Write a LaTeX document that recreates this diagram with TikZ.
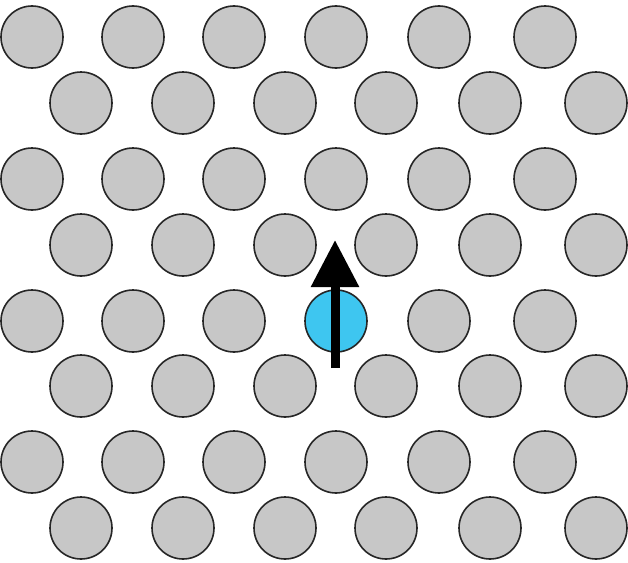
\documentclass[tikz,border=0pt]{standalone}
\usepackage{tikz}
\usetikzlibrary{arrows.meta}
\definecolor{spinblue}{RGB}{62,198,240}

\begin{document}
\begin{tikzpicture}[
        x=1pt, y=-1pt,
        every node/.style={circle, draw=black!85, line width=1.6pt, inner sep=0pt, minimum size=62pt},
        atom/.style={fill=black!22},
        spin/.style={fill=spinblue},
        moment/.style={line width=9pt, -{Triangle[width=46pt,length=47pt]}}
    ]
    \useasboundingbox (0,0) rectangle (628,562);
    % shifted rows
    \foreach \y [count=\r] in {103,245,386,528}
        \foreach \x [count=\i] in {81,183,285,386,490,596}
            \node[atom] (even-\r-\i) at (\x,\y) {};
    % unshifted rows, one site holds the blue atom
    \foreach \y [count=\r] in {37,179,321,462}
        \foreach \x [count=\i] in {32,133,234,336,439,545} {
            \ifnum\r\i=34
                \node[spin] (odd-\r-\i) at (\x,\y) {};
            \else
                \node[atom] (odd-\r-\i) at (\x,\y) {};
            \fi
        }
    \coordinate (tail) at (335,368);
    \coordinate (tip) at (335,240);
    \draw[moment] (tail) -- (tip);
\end{tikzpicture}
\end{document}
